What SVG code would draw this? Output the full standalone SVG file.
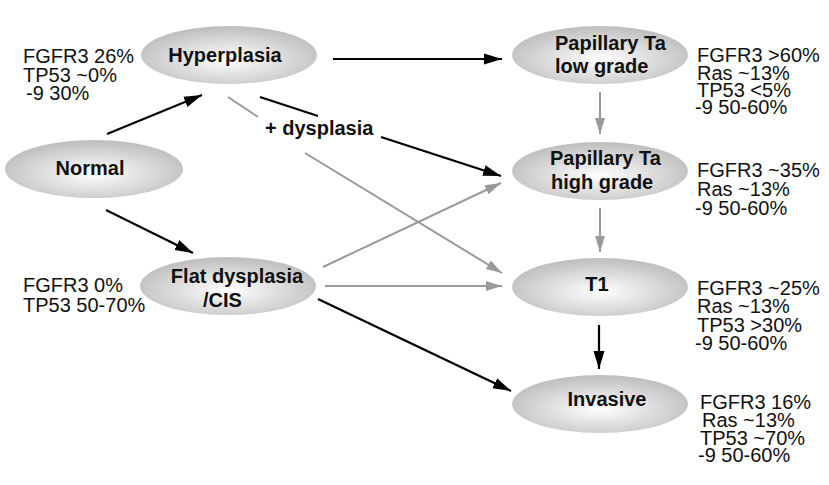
<svg xmlns="http://www.w3.org/2000/svg" width="829" height="485" viewBox="0 0 829 485">
<style>
.lbl{font-family:"Liberation Sans",Arial,sans-serif;font-weight:bold;font-size:20px;fill:#111}
.dat{font-family:"Liberation Sans",Arial,sans-serif;font-size:20px;fill:#111}
.blk{stroke:#000;stroke-width:2.2;fill:none;marker-end:url(#ab)}
.gry{stroke:#999;stroke-width:2;fill:none}
.gryA{stroke:#999;stroke-width:2;fill:none;marker-end:url(#ag)}
.blkL{stroke:#000;stroke-width:2.2;fill:none}
.nd{fill:url(#eg)}
</style>
<defs>
<radialGradient id="eg" cx="50%" cy="58%" r="55%">
<stop offset="0" stop-color="#ffffff"/>
<stop offset="1" stop-color="#c0c0c0"/>
</radialGradient>
<marker id="ab" markerUnits="userSpaceOnUse" markerWidth="20" markerHeight="14" refX="18" refY="7" orient="auto">
<path d="M0,1.5 L18,7 L0,12.5 Z" fill="#000"/>
</marker>
<marker id="ag" markerUnits="userSpaceOnUse" markerWidth="18" markerHeight="14" refX="16" refY="7" orient="auto">
<path d="M0,2 L16,7 L0,12 Z" fill="#999"/>
</marker>
</defs>
<g id="connectors">
<line class="blk" x1="107" y1="134" x2="202" y2="95"/>
<line class="blk" x1="106" y1="210" x2="193" y2="253"/>
<line class="blk" x1="333" y1="59" x2="502" y2="59"/>
<line class="blkL" x1="260" y1="97" x2="318" y2="116"/>
<line class="blk" x1="381" y1="137" x2="501" y2="176"/>
<line class="gry" x1="228" y1="97" x2="258" y2="117"/>
<line class="gryA" x1="305" y1="153" x2="502" y2="273"/>
<line class="gryA" x1="323" y1="267" x2="501" y2="183"/>
<line class="gryA" x1="325" y1="286" x2="502" y2="286"/>
<line class="blk" x1="318" y1="299" x2="511" y2="391"/>
<line class="gryA" x1="600" y1="92" x2="600" y2="134"/>
<line class="gryA" x1="600" y1="208" x2="600" y2="252"/>
<line class="blk" x1="599" y1="325" x2="599" y2="369"/>
</g>
<g id="normal">
<ellipse class="nd" cx="94" cy="169" rx="89" ry="29"/>
<text class="lbl" x="90" y="175" text-anchor="middle">Normal</text>
</g>
<g id="hyperplasia">
<ellipse class="nd" cx="229" cy="55" rx="88" ry="29"/>
<text class="lbl" x="225" y="62" text-anchor="middle">Hyperplasia</text>
<text class="dat" x="23" y="63">FGFR3 26%</text>
<text class="dat" x="23" y="82">TP53 ~0%</text>
<text class="dat" x="26" y="100">-9 30%</text>
</g>
<g id="dysplasia-label">
<text class="lbl" x="265" y="135">+ dysplasia</text>
</g>
<g id="flat">
<ellipse class="nd" cx="228" cy="286" rx="88" ry="29"/>
<text class="lbl" x="237" y="283" text-anchor="middle">Flat dysplasia</text>
<text class="lbl" x="203" y="307">/CIS</text>
<text class="dat" x="23" y="292">FGFR3 0%</text>
<text class="dat" x="23" y="312">TP53 50-70%</text>
</g>
<g id="papillary-low">
<ellipse class="nd" cx="600" cy="55" rx="88" ry="29"/>
<text class="lbl" x="555" y="50">Papillary Ta</text>
<text class="lbl" x="555" y="73">low grade</text>
<text class="dat" x="697" y="62">FGFR3 &gt;60%</text>
<text class="dat" x="697" y="80">Ras ~13%</text>
<text class="dat" x="697" y="97">TP53 &lt;5%</text>
<text class="dat" x="695" y="114">-9 50-60%</text>
</g>
<g id="papillary-high">
<ellipse class="nd" cx="600" cy="171" rx="88" ry="29"/>
<text class="lbl" x="550" y="165">Papillary Ta</text>
<text class="lbl" x="551" y="189">high grade</text>
<text class="dat" x="697" y="177">FGFR3 ~35%</text>
<text class="dat" x="697" y="196">Ras ~13%</text>
<text class="dat" x="695" y="215">-9 50-60%</text>
</g>
<g id="t1">
<ellipse class="nd" cx="600" cy="287" rx="88" ry="29"/>
<text class="lbl" x="597" y="291" text-anchor="middle">T1</text>
<text class="dat" x="697" y="295">FGFR3 ~25%</text>
<text class="dat" x="697" y="313">Ras ~13%</text>
<text class="dat" x="697" y="332">TP53 &gt;30%</text>
<text class="dat" x="695" y="350">-9 50-60%</text>
</g>
<g id="invasive">
<ellipse class="nd" cx="600" cy="404" rx="88" ry="29"/>
<text class="lbl" x="607" y="406" text-anchor="middle">Invasive</text>
<text class="dat" x="700" y="409">FGFR3 16%</text>
<text class="dat" x="702" y="427">Ras ~13%</text>
<text class="dat" x="700" y="445">TP53 ~70%</text>
<text class="dat" x="698" y="462">-9 50-60%</text>
</g>
</svg>
